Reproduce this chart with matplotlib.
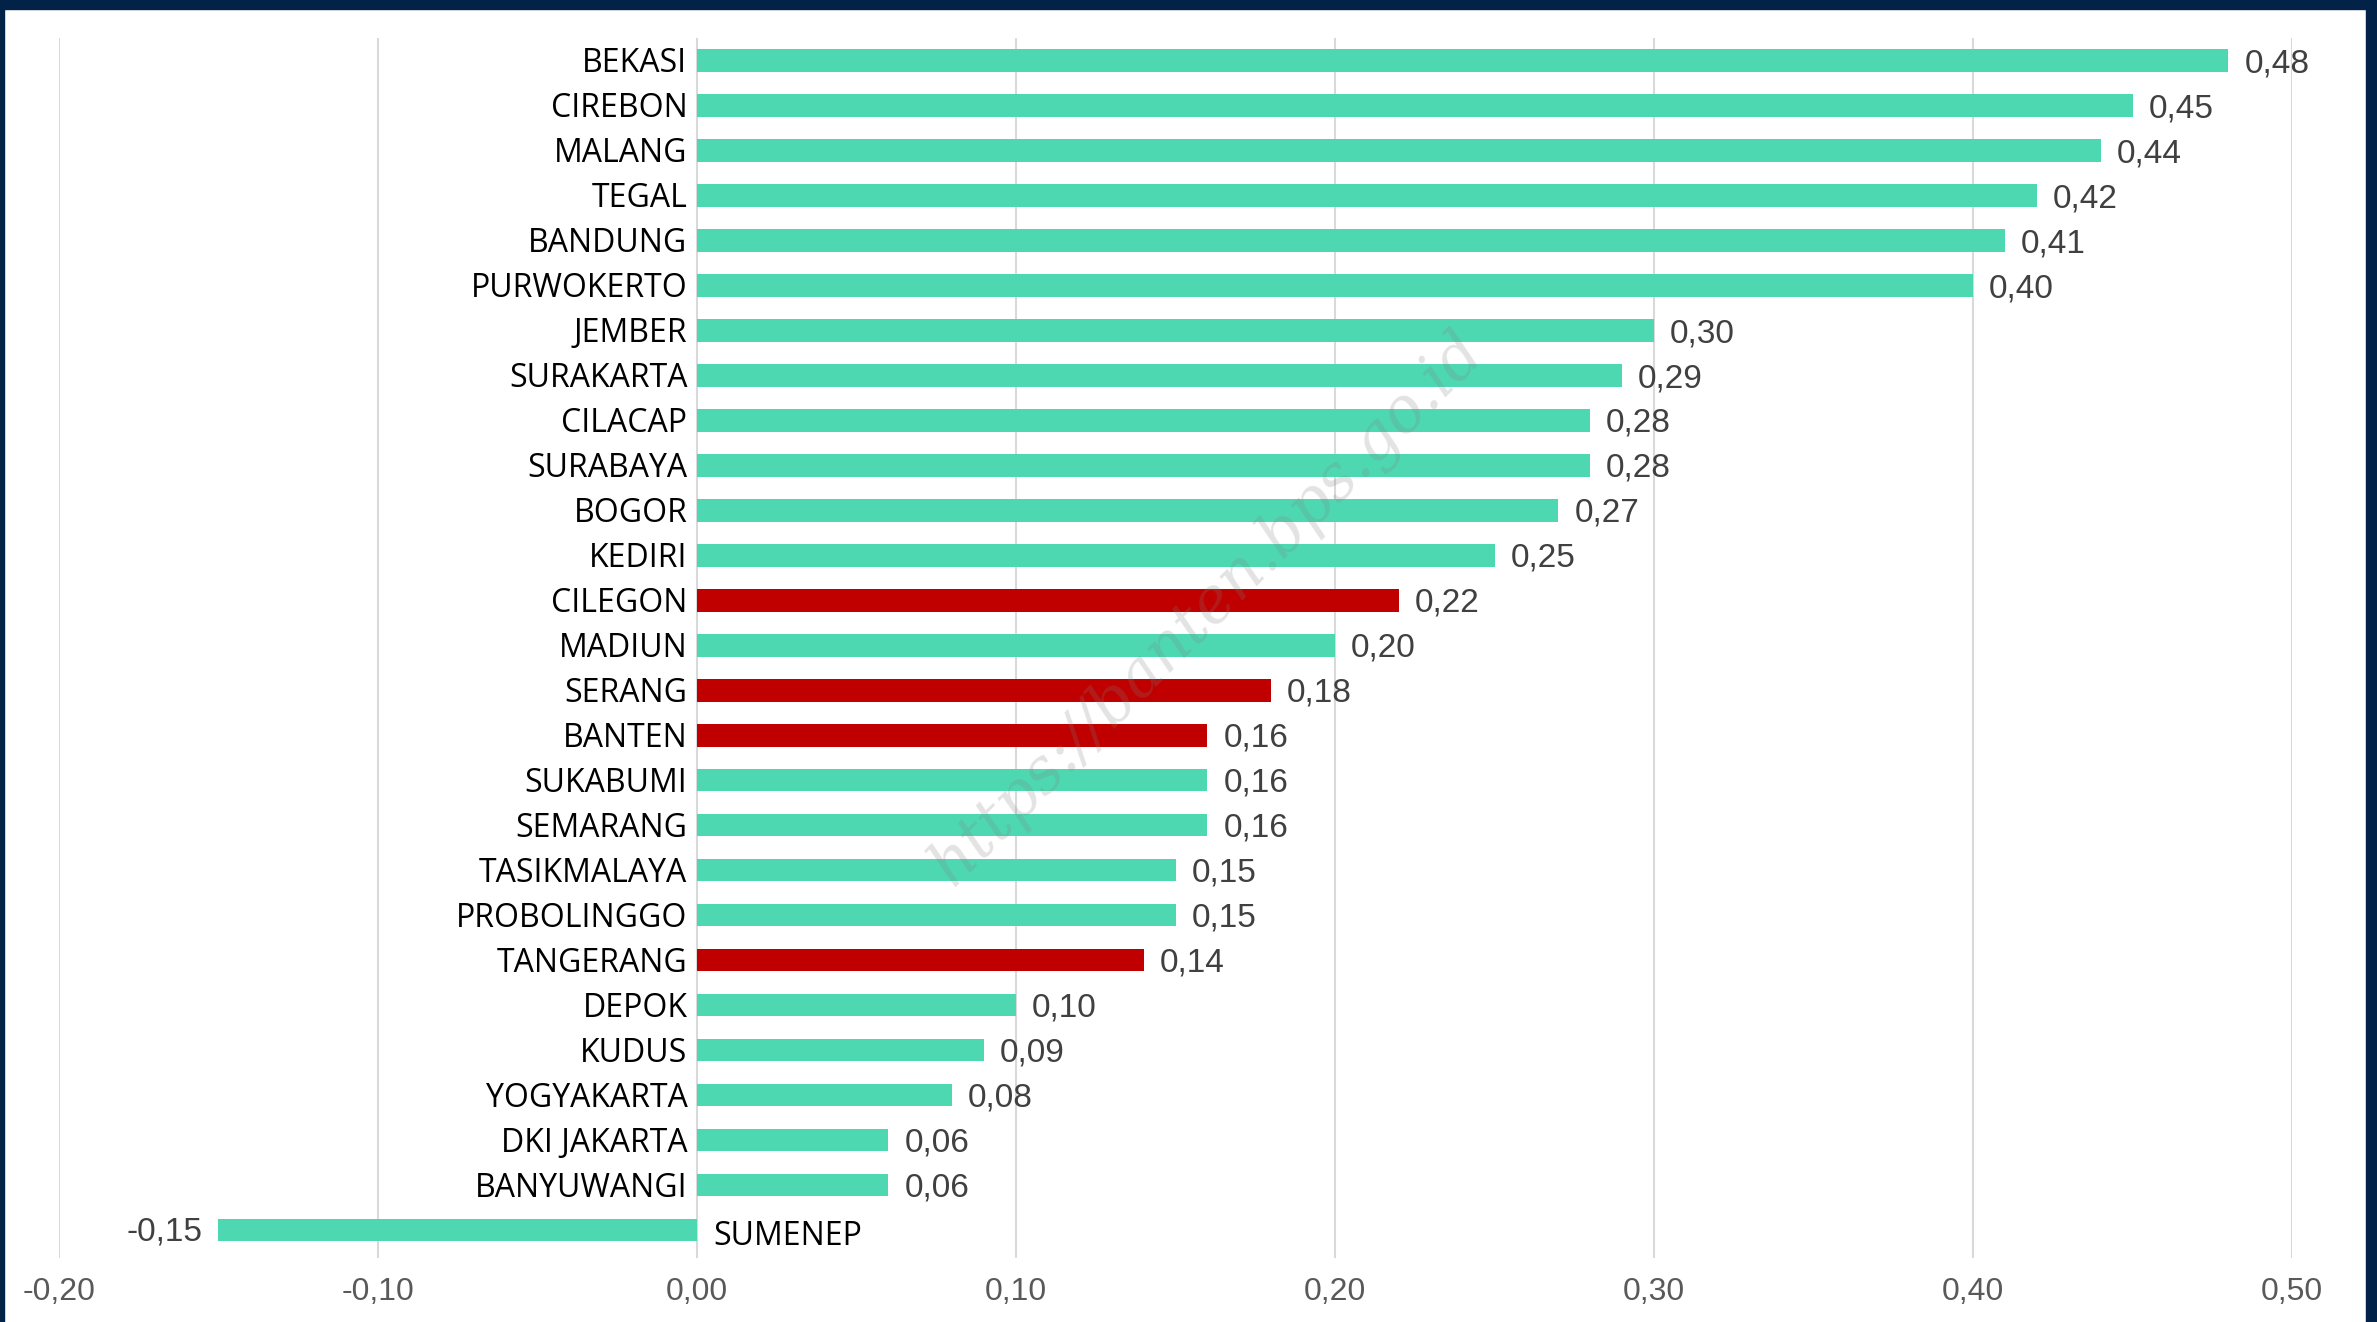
import matplotlib
matplotlib.use("Agg")
import matplotlib.pyplot as plt
from matplotlib import font_manager
from matplotlib.patches import Rectangle

kota = ["BEKASI", "CIREBON", "MALANG", "TEGAL", "BANDUNG", "PURWOKERTO", "JEMBER",
        "SURAKARTA", "CILACAP", "SURABAYA", "BOGOR", "KEDIRI", "CILEGON", "MADIUN",
        "SERANG", "BANTEN", "SUKABUMI", "SEMARANG", "TASIKMALAYA", "PROBOLINGGO",
        "TANGERANG", "DEPOK", "KUDUS", "YOGYAKARTA", "DKI JAKARTA", "BANYUWANGI", "SUMENEP"]
nilai = [0.48, 0.45, 0.44, 0.42, 0.41, 0.40, 0.30, 0.29, 0.28, 0.28, 0.27, 0.25, 0.22,
         0.20, 0.18, 0.16, 0.16, 0.16, 0.15, 0.15, 0.14, 0.10, 0.09, 0.08, 0.06, 0.06, -0.15]
banten = ["CILEGON", "SERANG", "BANTEN", "TANGERANG"]
xticks = [-0.20, -0.10, 0.00, 0.10, 0.20, 0.30, 0.40, 0.50]

names = {f.name for f in font_manager.fontManager.ttflist}
label_font = "Liberation Sans Narrow" if "Liberation Sans Narrow" in names else "Open Sans"
num_font = "Liberation Sans"

hijau = "#4ED8B2"
merah = "#C00000"
warna = [merah if k in banten else hijau for k in kota]

fig = plt.figure(figsize=(23.77, 13.22), dpi=100)
ax = fig.add_axes([0.0248, 0.0484, 0.9395, 0.9229])

y = list(range(len(kota)))
ax.barh(y, nilai, height=0.5, color=warna, zorder=3)

ax.set_xlim(-0.2, 0.5)
ax.set_ylim(26.62, -0.5)
ax.set_xticks(xticks)
ax.set_xticklabels([f"{t:.2f}".replace(".", ",") for t in xticks],
                   fontsize=23, color="#595959", family=num_font)
ax.tick_params(axis="x", length=0, pad=14)
ax.set_yticks([])
ax.grid(axis="x", color="#D9D9D9", linewidth=1.5, zorder=0)
for s in ax.spines.values():
    s.set_visible(False)

for i, (k, v) in enumerate(zip(kota, nilai)):
    lbl = f"{v:.2f}".replace(".", ",")
    if v >= 0:
        ax.text(-0.003, i + 0.07, k, ha="right", va="center", fontsize=23,
                family=label_font, color="black")
        ax.text(v + 0.005, i + 0.07, lbl, ha="left", va="center", fontsize=24,
                family=num_font, color="#404040")
    else:
        ax.text(0.005, i + 0.15, k, ha="left", va="center", fontsize=23,
                family=label_font, color="black")
        ax.text(v - 0.005, i + 0.05, lbl, ha="right", va="center", fontsize=24,
                family=num_font, color="#404040")

# watermark
fig.text(0.508, 0.54, "https://banten.bps.go.id", rotation=45, ha="center", va="center",
         fontsize=45, family="DejaVu Serif", style="italic", color="#808080", alpha=0.22,
         zorder=10)

# frame
navy = "#022248"
fig.patches.append(Rectangle((0, 1 - 9 / 1322), 1, 9 / 1322, transform=fig.transFigure,
                             color=navy, zorder=20))
fig.patches.append(Rectangle((0, 0), 4 / 2377, 1, transform=fig.transFigure,
                             color=navy, zorder=20))
fig.patches.append(Rectangle((1 - 11 / 2377, 0), 11 / 2377, 1, transform=fig.transFigure,
                             color=navy, zorder=20))

fig.savefig("out.png", dpi=100)
plt.close(fig)
